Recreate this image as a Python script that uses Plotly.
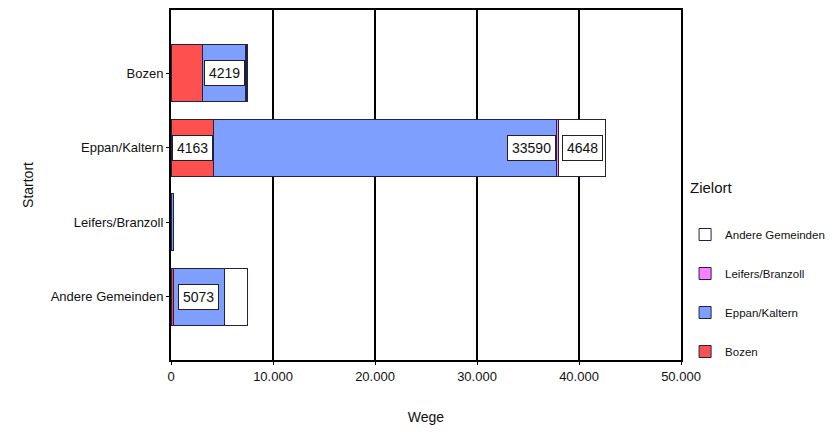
import plotly.graph_objects as go

startorte = ["Bozen", "Eppan/Kaltern", "Leifers/Branzoll", "Andere Gemeinden"]
zielorte = ["Bozen", "Eppan/Kaltern", "Leifers/Branzoll", "Andere Gemeinden"]
ziel_bozen = [3100, 4163, 0, 200]
ziel_eppan = [4219, 33590, 280, 5073]
ziel_leifers = [60, 230, 0, 0]
ziel_andere = [150, 4648, 0, 2200]
farben = ["#FF5050", "#7F9FFF", "#FF80FF", "#FFFFFF"]
legend_rang = [4, 3, 2, 1]
x_ticks = [0, 10000, 20000, 30000, 40000, 50000]

FONT = "Liberation Sans, Arial, sans-serif"
series = [ziel_bozen, ziel_eppan, ziel_leifers, ziel_andere]

fig = go.Figure()
for name, vals, col, rk in zip(zielorte, series, farben, legend_rang):
    fig.add_trace(go.Bar(
        y=startorte, x=vals, name=name, orientation="h",
        marker=dict(color=col, line=dict(color="#222244", width=1)),
        width=0.77, legendgroup=name, legendrank=rk,
    ))

annotations = []
cum = [0] * len(startorte)
for vals in series:
    for i, v in enumerate(vals):
        start = cum[i]
        if v > 4000:
            big = v > 20000
            annotations.append(dict(x=start + v if big else start + v / 2,
                                    y=startorte[i], xref="x", yref="y",
                                    text=str(v), showarrow=False,
                                    xanchor="right" if big else "center",
                                    bgcolor="white", bordercolor="#222", borderwidth=1,
                                    borderpad=4, font=dict(family=FONT, size=14, color="#111")))
        cum[i] = start + v

annotations.append(dict(x=1.014, y=(360 - 187) / 352, xref="paper", yref="paper",
                        yanchor="middle", text="Zielort", showarrow=False, xanchor="left",
                        font=dict(family=FONT, size=15, color="#111")))

fig.update_layout(
    barmode="stack",
    width=832, height=424,
    margin=dict(l=163, r=159, t=0, b=72),
    paper_bgcolor="white", plot_bgcolor="white",
    separators=",.",
    font=dict(family=FONT, size=13, color="#111"),
    annotations=annotations,
    showlegend=True,
    legend=dict(
        x=1.008, xanchor="left", y=0.4, yanchor="top",
        traceorder="grouped", tracegroupgap=20,
        font=dict(family=FONT, size=11.5),
        bgcolor="rgba(0,0,0,0)",
    ),
    xaxis=dict(
        range=[0, 50000], tickvals=x_ticks, tickformat=",d",
        showgrid=True, gridcolor="black", gridwidth=2,
        showline=True, linecolor="black", linewidth=2, mirror=True,
        ticks="outside", ticklen=3, tickcolor="black",
        zeroline=False,
        title=dict(text="Wege", font=dict(family=FONT, size=14), standoff=30),
        tickfont=dict(family=FONT, size=13),
    ),
    yaxis=dict(
        categoryorder="array", categoryarray=startorte,
        range=[3.85, -0.85],
        showline=True, linecolor="black", linewidth=2, mirror=True,
        ticks="outside", ticklen=3, tickcolor="black",
        showgrid=False,
        title=dict(text="Startort", font=dict(family=FONT, size=14), standoff=14),
        tickfont=dict(family=FONT, size=13),
    ),
)

fig.write_html("out.html")
